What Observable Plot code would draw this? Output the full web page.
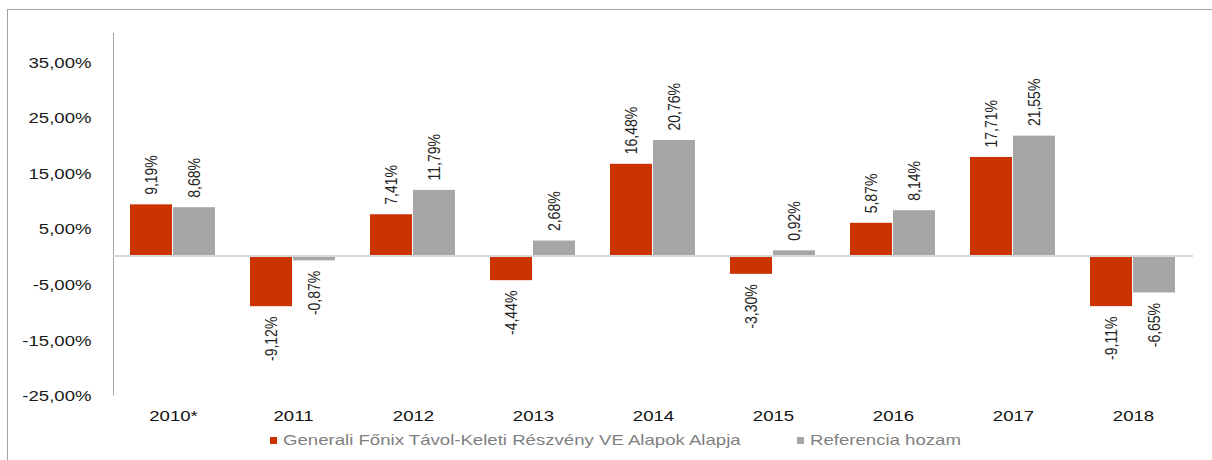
<!DOCTYPE html>
<html>
<head>
<meta charset="utf-8">
<script src="https://cdn.jsdelivr.net/npm/d3@7"></script>
<script src="https://cdn.jsdelivr.net/npm/@observablehq/plot@0.6"></script>
<style>
  html, body { margin: 0; padding: 0; background: #fff; }
  #wrap { position: relative; width: 1212px; height: 460px; overflow: hidden; font-family: "Liberation Sans", Arial, sans-serif; }
  #box { position: absolute; left: 7px; top: 9px; width: 1300px; height: 600px; border: 1px solid #a3a3a3; box-sizing: border-box; }
  #chart { position: absolute; left: 0; top: 0; }
  .sw { position: absolute; width: 7px; height: 7px; top: 437px; }
  .lt { position: absolute; top: 432px; font-size: 15px; line-height: 15px; color: #7f7f7f; white-space: nowrap; transform: scaleX(1.24); transform-origin: 0 0; }
</style>
</head>
<body>
<div id="wrap">
  <div id="box"></div>
  <div id="chart"></div>
  <div id="legend"></div>
</div>
<script>
// ---- data ----
const years = ["2010*", "2011", "2012", "2013", "2014", "2015", "2016", "2017", "2018"];
const seriesNames = ["Generali Főnix Távol-Keleti Részvény VE Alapok Alapja", "Referencia hozam"];
const fundValues = [9.19, -9.12, 7.41, -4.44, 16.48, -3.30, 5.87, 17.71, -9.11];
const refValues = [8.68, -0.87, 11.79, 2.68, 20.76, 0.92, 8.14, 21.55, -6.65];
const yTicks = [35, 25, 15, 5, -5, -15, -25];
const colors = ["#CC3300", "#A6A6A6"];

const rows = [];
years.forEach((y, i) => {
  rows.push({year: y, series: seriesNames[0], value: fundValues[i]});
  rows.push({year: y, series: seriesNames[1], value: refValues[i]});
});
const fmt = v => v.toFixed(2).replace(".", ",") + "%";

const chart = Plot.plot({
  width: 1212,
  height: 460,
  marginLeft: 109,
  marginRight: 16,
  marginTop: 33,
  marginBottom: 65.5,
  style: {fontFamily: "'Liberation Sans', Arial, sans-serif", background: "transparent", overflow: "visible"},
  fx: {domain: years, padding: 0, label: null},
  x: {domain: seriesNames, paddingInner: 0.023, paddingOuter: 0.4, axis: null},
  y: {domain: [-25, 40]},
  color: {domain: seriesNames, range: colors},
  marks: [
    Plot.frame({anchor: "left", stroke: "#a6a6a6", facetAnchor: "left"}),
    Plot.barY(rows, {fx: "year", x: "series", y: "value", fill: "series"}),
    Plot.ruleY([0], {stroke: "#d9d9d9", strokeWidth: 2}),
    Plot.text(rows.filter(d => d.value >= 0), {fx: "year", x: "series", y: "value", text: d => fmt(d.value), rotate: -90, textAnchor: "start", dy: -10, fontSize: 14, fill: "#222"}),
    Plot.text(rows.filter(d => d.value < 0), {fx: "year", x: "series", y: "value", text: d => fmt(d.value), rotate: -90, textAnchor: "end", dy: 10, fontSize: 14, fill: "#222"}),
    Plot.axisY({ticks: yTicks, tickSize: 0, tickPadding: 22, dy: 1.5, tickFormat: fmt, fontSize: 15, fill: "#1a1a1a", label: null}),
    Plot.axisFx({anchor: "bottom", tickSize: 0, tickPadding: 15, fontSize: 15, fill: "#111", label: null})
  ]
});
document.getElementById("chart").appendChild(chart);

// horizontally stretched lettering, as in the reference
function stretch(sel, s) {
  chart.querySelectorAll(sel).forEach(t => {
    const tr = t.getAttribute("transform") || "";
    t.setAttribute("transform", tr + " " + s);
  });
}
stretch('g[aria-label="y-axis tick label"] text', "scale(1.24,1)");
stretch('g[aria-label="fx-axis tick label"] text', "scale(1.24,1)");
stretch('g[aria-label="text"] text', "scale(1,1.24)");

// legend
const legend = document.getElementById("legend");
const swX = [270, 797];
seriesNames.forEach((name, i) => {
  const sw = document.createElement("div");
  sw.className = "sw";
  sw.style.left = swX[i] + "px";
  sw.style.background = colors[i];
  legend.appendChild(sw);
  const t = document.createElement("div");
  t.className = "lt";
  t.style.left = (swX[i] + 13) + "px";
  t.textContent = name;
  legend.appendChild(t);
});
</script>
</body>
</html>
